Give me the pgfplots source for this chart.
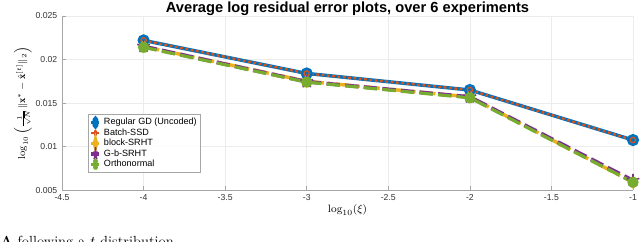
\documentclass[border=0pt]{standalone}
\usepackage{pgfplots}
\pgfplotsset{compat=1.18}
\usepackage{fontspec}
\setsansfont{Liberation Sans}
\usepackage{amsmath}
\definecolor{mblue}{rgb}{0,0.447,0.741}
\definecolor{morange}{rgb}{0.85,0.325,0.098}
\definecolor{myellow}{rgb}{0.929,0.694,0.125}
\definecolor{mpurple}{rgb}{0.494,0.184,0.556}
\definecolor{mgreen}{rgb}{0.466,0.674,0.188}
\begin{document}
\begin{tikzpicture}[x=1pt,y=1pt]
\begin{axis}[
  at={(0,0)}, anchor=south west,
  scale only axis, width=428pt, height=130.5pt,
  xmin=-4.5, xmax=-1, ymin=0.005, ymax=0.025,
  xtick={-4.5,-4,-3.5,-3,-2.5,-2,-1.5,-1},
  ytick={0.005,0.01,0.015,0.02,0.025},
  scaled y ticks=false, scaled x ticks=false,
  xticklabels={-4.5,-4,-3.5,-3,-2.5,-2,-1.5,-1},
  yticklabels={0.005,0.01,0.015,0.02,0.025},
  ticklabel style={font=\sffamily\fontsize{6.5}{7}\selectfont, text=black!80},
  axis lines*=left,
  axis line style={gray!70, line width=0.6pt},
  tick style={gray!70, line width=0.5pt},
  tick align=inside, major tick length=3pt,
  grid=major, grid style={gray!15, line width=0.4pt},
  title={\sffamily\bfseries Average log residual error plots, over 6 experiments},
  title style={font=\fontsize{11}{12}\selectfont, at={(0.5,1)}, anchor=base, yshift=-3.5pt},
  xlabel={$\log_{10}(\xi)$}, xlabel style={font=\fontsize{8}{9}\selectfont, yshift=4pt},
  ylabel={$\log_{10}\left(\frac{1}{\sqrt{N}}\|\mathbf{x}^*-\hat{\mathbf{x}}^{[t]}\|_2\right)$},
  ylabel style={font=\fontsize{7.5}{8}\selectfont, yshift=-4pt},
  legend style={at={(0.0455,0.437)}, anchor=north west, font=\sffamily\fontsize{6.8}{7}\selectfont,
    draw=gray!70, line width=0.4pt, inner sep=1pt, row sep=-2.6pt, fill=white, fill opacity=0.85, text opacity=1},
  legend cell align=left,
  legend image post style={xscale=0.35},
]
\addplot[mblue, line width=2.6pt, mark=*, mark size=3.2pt, mark options={solid, fill=mblue, draw=mblue}]
 coordinates {(-4,0.0222) (-3,0.0184) (-2,0.0165) (-1,0.01075)};
\addlegendentry{Regular GD (Uncoded)}
\addplot[morange, line width=1.8pt, dash pattern=on 2pt off 2pt, mark=o, mark size=2pt, mark options={solid, fill=morange, line width=1pt}]
 coordinates {(-4,0.0222) (-3,0.0184) (-2,0.0165) (-1,0.01075)};
\addlegendentry{Batch-SSD}
\addplot[myellow, line width=2.6pt, dash pattern=on 12pt off 3pt on 3pt off 3pt, mark=diamond*, mark size=3pt, mark options={solid, fill=myellow}]
 coordinates {(-4,0.0215) (-3,0.0175) (-2,0.0157) (-1,0.0059)};
\addlegendentry{block-SRHT}
\addplot[mpurple, line width=2.8pt, dash pattern=on 10pt off 4pt, mark=star, mark size=5pt, mark options={solid, line width=1.2pt}]
 coordinates {(-4,0.0215) (-3,0.01745) (-2,0.0157) (-1,0.0061)};
\addlegendentry{G-b-SRHT}
\addplot[mgreen, line width=2.4pt, dash pattern=on 10pt off 4pt, mark=10-pointed star, mark size=4pt, mark options={solid, fill=mgreen}]
 coordinates {(-4,0.0214) (-3,0.0174) (-2,0.0156) (-1,0.0059)};
\addlegendentry{Orthonormal}
\end{axis}
\node[anchor=base west, inner sep=0pt, font=\fontsize{11}{13}\selectfont] at (-46.5pt,-42.5pt) {\textbf{A} following a $t$-distribution};
\pgfresetboundingbox
\useasboundingbox (-46.5pt,-38.25pt) rectangle (433.25pt,142.5pt);
\end{tikzpicture}
\end{document}
